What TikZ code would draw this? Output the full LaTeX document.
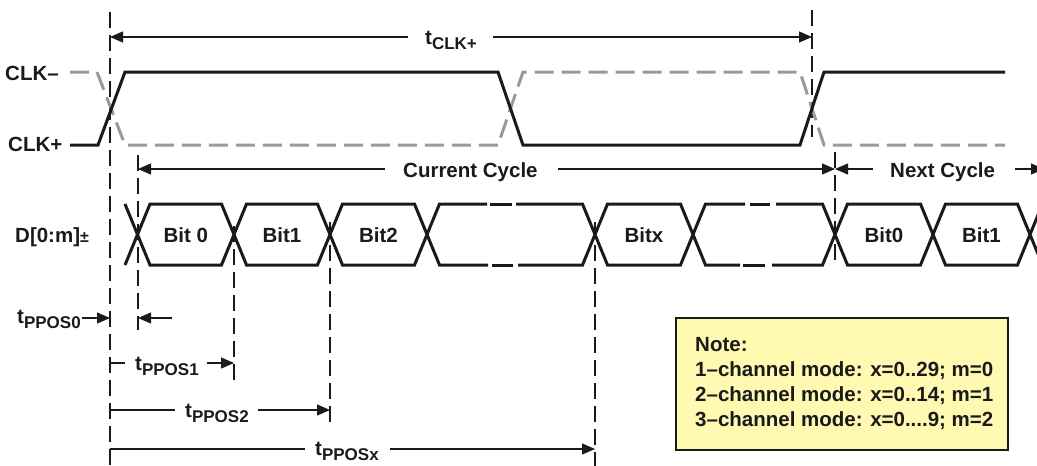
\documentclass[tikz,border=0pt]{standalone}
\usepackage{fontspec}
\setmainfont{Liberation Sans}
\usetikzlibrary{arrows.meta}
\newcommand{\tsub}[1]{t\raisebox{-5pt}{\fontsize{17}{17}\selectfont #1}}
\definecolor{clkgray}{HTML}{9A9A9A}
\definecolor{noteyellow}{HTML}{FFF9B2}
\definecolor{ink}{HTML}{1A1A1A}
\begin{document}
\begin{tikzpicture}[x=1pt,y=-1pt,
  lbl/.style={font=\fontsize{20.5}{25}\selectfont\bfseries, inner sep=0pt, anchor=base west, text=ink},
  bitlbl/.style={font=\fontsize{20.5}{25}\selectfont\bfseries, inner sep=0pt, anchor=base, text=ink},
  clkpos/.style={line width=3pt, ink},
  clkneg/.style={line width=3pt, clkgray, dash pattern=on 19pt off 8pt},
  bus/.style={line width=3pt, ink, line join=miter},
  guide/.style={line width=1.1pt, ink, dash pattern=on 16pt off 7pt},
  dim/.style={line width=1.1pt, ink},
  tip/.style={dim, -{Triangle[length=13pt,width=11pt]}},
]
\useasboundingbox (0,0) rectangle (1037,466);
\clip (0,0) rectangle (1037,466);

% ---- guide lines ----
\draw[guide] (110,12) -- (110,466);
\draw[guide] (812,10) -- (812,137);
\draw[guide] (138,155) -- (138,330);
\draw[guide] (835,152) -- (835,265);
\draw[guide] (234,226) -- (234,380);
\draw[guide] (330,222) -- (330,425);
\draw[guide] (595,222) -- (595,466);

% ---- clock ----
\draw[clkneg] (70,72) -- (97,72) -- (125,145) -- (498,145) -- (523,72) -- (800,72) -- (824,145) -- (1005,145);
\draw[clkpos] (70,145) -- (98,145) -- (125,72) -- (498,72) -- (523,145) -- (800,145) -- (824,72) -- (1005,72);
\node[lbl] (clkm) at (5,80) {CLK–};
\node[lbl] (clkp) at (8,151) {CLK+};

% ---- tCLK+ ----
\coordinate (c0) at (110,37);
\coordinate (c1) at (812,37);
\coordinate (c0g) at (408,37);
\coordinate (c1g) at (493,37);
\node[lbl] (tclk) at (425,44) {\tsub{CLK+}};
\draw[tip] (c0g) -- (c0);
\draw[tip] (c1g) -- (c1);

% ---- cycles ----
\coordinate (cc0) at (138,169);
\coordinate (cc1) at (835,169);
\coordinate (cc0g) at (385,169);
\coordinate (cc1g) at (558,169);
\node[lbl] (curcyc) at (403,177) {Current Cycle};
\draw[tip] (cc0g) -- (cc0);
\draw[tip] (cc1g) -- (cc1);
\coordinate (nc0g) at (873,169);
\coordinate (nc1g) at (1015,169);
\coordinate (nc1) at (1044,169);
\node[lbl] (nextcyc) at (890,177) {Next Cycle};
\draw[tip] (nc0g) -- (cc1);
\draw[tip] (nc1g) -- (nc1);

% ---- data bus ----
\node[lbl] (dlbl) at (15,242) {D[0:m]{\fontsize{16}{16}\selectfont ±}};
\draw[bus] (125,204) -- (137.5,234.5) -- (125,265);
\foreach \a/\b in {137.5/234, 234/330, 330/427, 595/693, 835/933, 933/1030}{
  \draw[bus] (\a,234.5) -- (\a+12.5,204) -- (\b-12.5,204) -- (\b,234.5) -- (\b-12.5,265) -- (\a+12.5,265) -- cycle;
}
\draw[bus] (1042.5,204) -- (1030,234.5) -- (1042.5,265);
% long box 1
\draw[bus] (427,234.5) -- (439.5,204) -- (487,204);
\draw[bus] (490,204) -- (512,204);
\draw[bus] (516,204) -- (582.5,204) -- (595,234.5);
\draw[bus] (427,234.5) -- (439.5,265) -- (488,265);
\draw[bus] (492,265) -- (513,265);
\draw[bus] (518,265) -- (582.5,265) -- (595,234.5);
% long box 2
\draw[bus] (693,234.5) -- (705.5,204) -- (745,204);
\draw[bus] (750,204) -- (770,204);
\draw[bus] (776,204) -- (822.5,204) -- (835,234.5);
\draw[bus] (693,234.5) -- (705.5,265) -- (740,265);
\draw[bus] (743,265) -- (765,265);
\draw[bus] (772,265) -- (822.5,265) -- (835,234.5);

\node[bitlbl] (b0) at (185.75,242) {Bit 0};
\node[bitlbl] (b1) at (282,242) {Bit1};
\node[bitlbl] (b2) at (378.5,242) {Bit2};
\node[bitlbl] (bx) at (644,242) {Bitx};
\node[bitlbl] (nb0) at (884,242) {Bit0};
\node[bitlbl] (nb1) at (981.5,242) {Bit1};

% ---- tPPOS ----
\coordinate (p0a) at (82,318);
\coordinate (p0b) at (110,318);
\coordinate (p0c) at (172,318);
\coordinate (p0d) at (138,318);
\node[lbl] (tp0) at (17,323) {\tsub{PPOS0}};
\draw[tip] (p0a) -- (p0b);
\draw[tip] (p0c) -- (p0d);

\coordinate (p1a) at (110,363);
\coordinate (p1b) at (125,363);
\coordinate (p1c) at (207,363);
\coordinate (p1d) at (234,363);
\node[lbl] (tp1) at (135,370) {\tsub{PPOS1}};
\draw[dim] (p1a) -- (p1b);
\draw[tip] (p1c) -- (p1d);

\coordinate (p2a) at (110,410);
\coordinate (p2b) at (175,410);
\coordinate (p2c) at (258,410);
\coordinate (p2d) at (330,410);
\node[lbl] (tp2) at (185,417) {\tsub{PPOS2}};
\draw[dim] (p2a) -- (p2b);
\draw[tip] (p2c) -- (p2d);

\coordinate (pxa) at (110,449);
\coordinate (pxb) at (305,449);
\coordinate (pxc) at (390,449);
\coordinate (pxd) at (595,449);
\node[lbl] (tpx) at (315,455) {\tsub{PPOSx}};
\draw[dim] (pxa) -- (pxb);
\draw[tip] (pxc) -- (pxd);

% ---- note ----
\node[draw=ink, line width=1.8pt, fill=noteyellow, minimum width=332pt, minimum height=132pt, inner sep=0pt] (notebox) at (842,384) {};
\node[font=\fontsize{20.5}{25}\selectfont\bfseries, text=ink, align=left, anchor=north west, inner sep=0pt] (notetext) at (695,337)
  {Note:\\1–channel mode: x=0..29; m=0\\2–channel mode: x=0..14; m=1\\3–channel mode: x=0....9; m=2};
\end{tikzpicture}
\end{document}
